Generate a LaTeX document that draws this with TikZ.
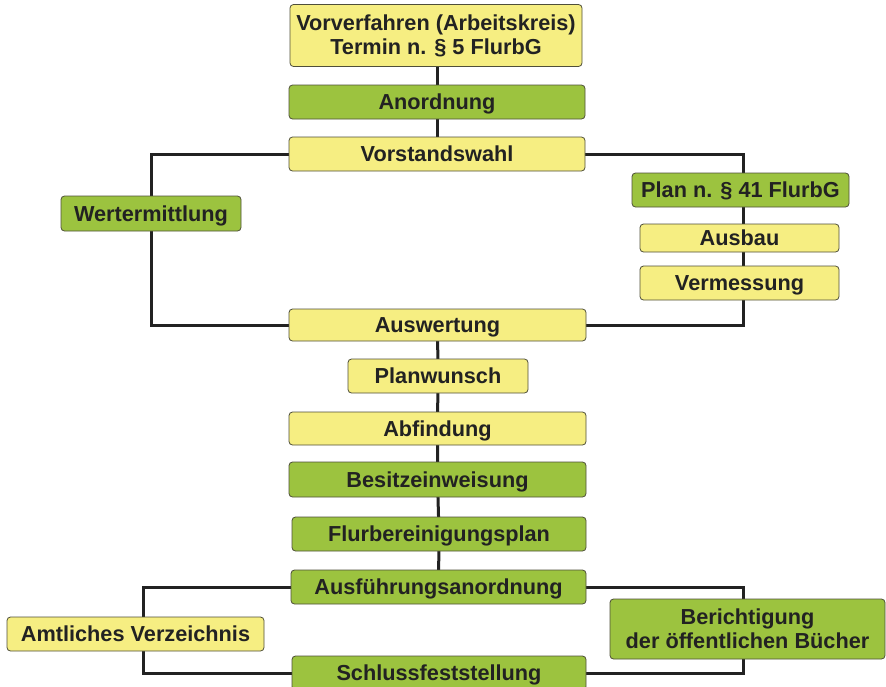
\documentclass[tikz,border=0pt]{standalone}
\usepackage{fontspec}
\setmainfont{Liberation Sans}
\usetikzlibrary{backgrounds}
\definecolor{boxyellow}{HTML}{F6EE82}
\definecolor{boxgreen}{HTML}{9CC33F}
\definecolor{boxline}{HTML}{4F4F3A}
\definecolor{txt}{HTML}{222222}
\definecolor{conn}{HTML}{222222}
\tikzset{
  box/.style={draw=boxline, line width=0.8pt, rounded corners=3.5pt, inner sep=0pt,
    align=center, text=txt, text height=15.5pt, text depth=0pt,
    font=\fontsize{21.7}{24}\selectfont\bfseries},
  twoline/.style={text height={}, text depth={}},
  ybox/.style={box, fill=boxyellow},
  gbox/.style={box, fill=boxgreen},
  link/.style={draw=conn, line width=3pt},
}
\begin{document}
\begin{tikzpicture}[x=1pt,y=-1pt]
\clip (0,0) rectangle (886,686);
\useasboundingbox (0,0) rectangle (886,686);
\node[ybox, twoline, minimum width=292pt, minimum height=62pt] (vor) at (436,35.5) {Vorverfahren (Arbeitskreis)\\Termin n. § 5 FlurbG};
\node[gbox, minimum width=296pt, minimum height=34pt] (anord) at (437,102) {Anordnung};
\node[ybox, minimum width=296pt, minimum height=34pt] (vs) at (437,154) {Vorstandswahl};
\node[gbox, minimum width=180pt, minimum height=35pt] (wert) at (151,213.5) {Wertermittlung};
\node[gbox, minimum width=217pt, minimum height=34pt] (plan) at (740.5,190) {Plan n. § 41 FlurbG};
\node[ybox, minimum width=199pt, minimum height=28pt] (ausbau) at (739.5,238) {Ausbau};
\node[ybox, minimum width=199pt, minimum height=34pt] (verm) at (739.5,283) {Vermessung};
\node[ybox, minimum width=297pt, minimum height=32pt] (ausw) at (437.5,325) {Auswertung};
\node[ybox, minimum width=180pt, minimum height=34pt] (planw) at (438,376) {Planwunsch};
\node[ybox, minimum width=297pt, minimum height=33pt] (abf) at (437.5,428.5) {Abfindung};
\node[gbox, minimum width=297pt, minimum height=35pt] (besitz) at (437.5,479.5) {Besitzeinweisung};
\node[gbox, minimum width=294pt, minimum height=34pt] (flurb) at (439,534) {Flurbereinigungsplan};
\node[gbox, minimum width=295pt, minimum height=34pt] (ausf) at (438.5,587) {Ausführungsanordnung};
\node[ybox, minimum width=257pt, minimum height=34pt] (amt) at (135.5,634) {Amtliches Verzeichnis};
\node[gbox, minimum width=294pt, minimum height=34pt] (schluss) at (439,673) {Schlussfeststellung};
\node[gbox, twoline, minimum width=275pt, minimum height=60pt] (ber) at (747.5,629) {Berichtigung\\der öffentlichen Bücher};
\coordinate (jl) at (143,628);
\coordinate (jr) at (743,628);
\coordinate (jtr) at (743,240);
\begin{scope}[on background layer]
\draw[link] (anord.center |- vor.center) -- (anord.center) -- (vs.center);
\draw[link] (vs.west) -| (wert.center) |- (ausw.west);
\draw[link] (vs.east) -| (jtr) |- (ausw.east);
\draw[link] (ausw.center) -- (planw.center) -- (abf.center) -- (besitz.center) -- (flurb.center) -- (ausf.center);
\draw[link] (ausf.west) -| (jl) |- (schluss.west);
\draw[link] (ausf.east) -| (jr) |- (schluss.east);
\end{scope}
\end{tikzpicture}
\end{document}
